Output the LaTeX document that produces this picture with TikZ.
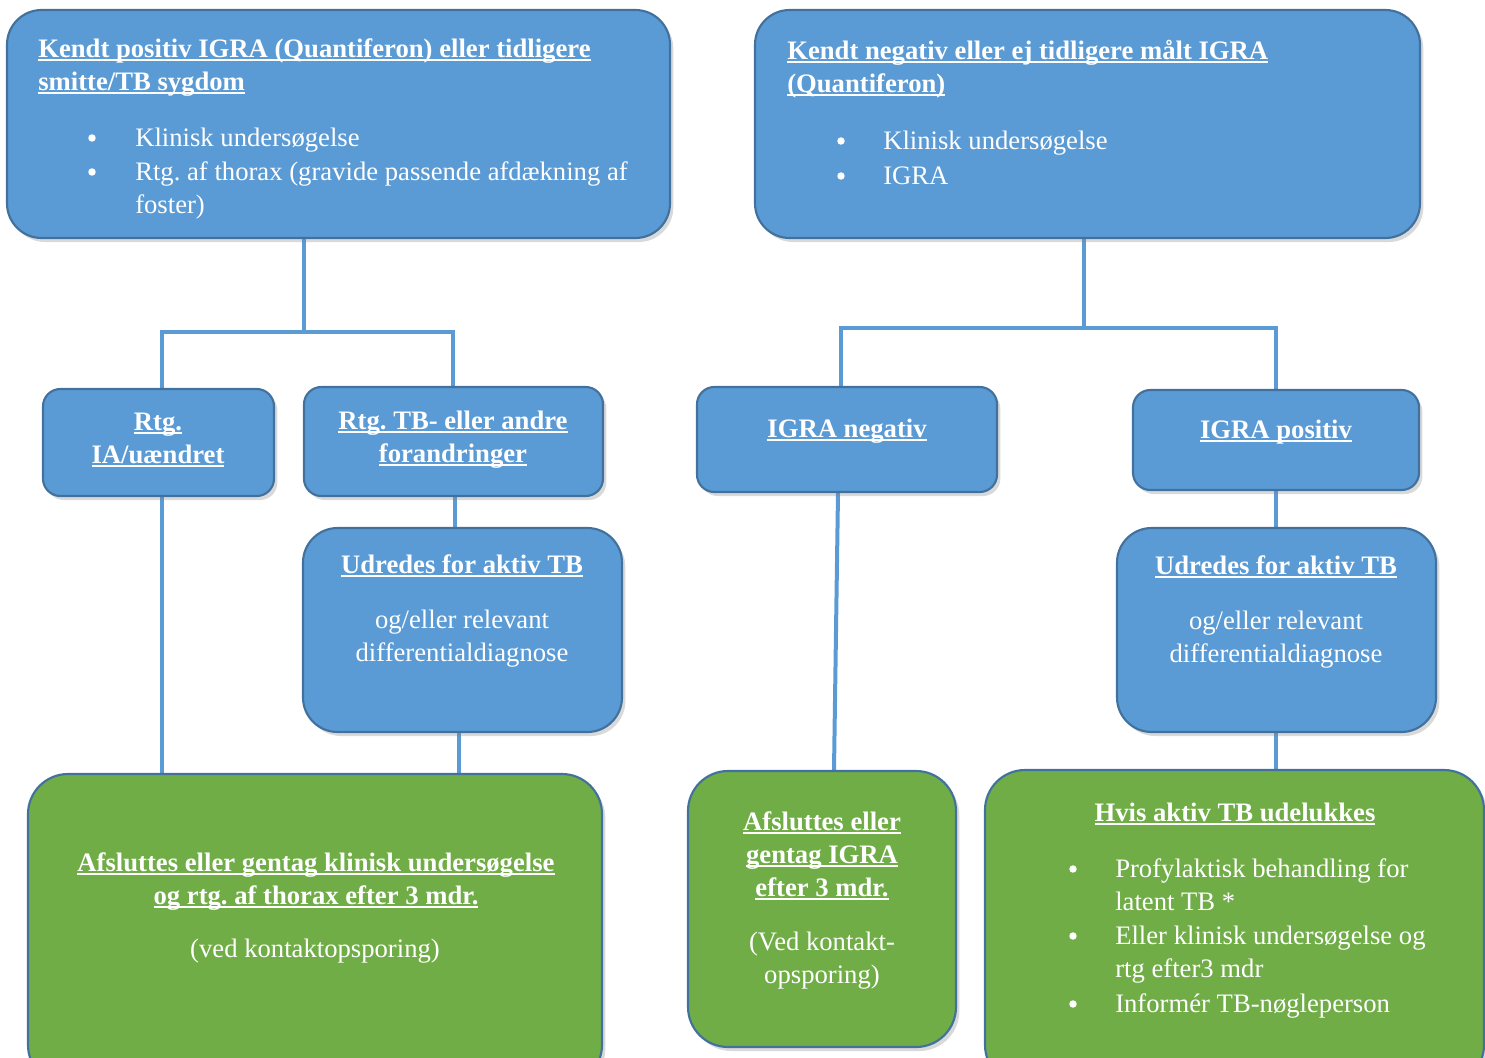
\documentclass[tikz,border=0pt]{standalone}
\usepackage{fontspec}
\setmainfont{Liberation Serif}
\usetikzlibrary{fit,shadows}
\definecolor{boxblue}{HTML}{5B9BD5}
\definecolor{boxgreen}{HTML}{70AD47}
\definecolor{edgeblue}{HTML}{41719C}
\definecolor{lineblue}{HTML}{5B9BD5}
\newcommand\myul[1]{\setbox0\hbox{#1}\rlap{\rule[-3pt]{\wd0}{1.3pt}}\box0}
\frenchspacing
\pgfdeclarelayer{bg}
\pgfsetlayers{bg,main}
\tikzset{
 bbox/.style={draw=edgeblue, line width=1.6pt, fill=boxblue, inner sep=0pt,
   drop shadow={opacity=0.3, shadow xshift=2.5pt, shadow yshift=-3pt}},
 gbox/.style={bbox, fill=boxgreen},
 txt/.style={text=white, inner sep=0pt, font=\fontsize{20pt}{24.75pt}\selectfont\frenchspacing},
 ltxt/.style={txt, anchor=base west},
 ctxt/.style={txt, anchor=base},
 bul/.style={circle, fill=white, inner sep=0pt, minimum size=5.6pt},
 conn/.style={draw=lineblue, line width=3pt, line join=miter},
}
\begin{document}
\begin{tikzpicture}[x=0.75pt,y=-0.75pt]
\useasboundingbox (0,0) rectangle (1485,1057);
% boxes
\node[bbox, rounded corners=26pt, fit={(7,10)(670,238)}] (k1) {};
\node[bbox, rounded corners=26pt, fit={(755,10)(1420,238)}] (k2) {};
\node[bbox, rounded corners=13pt, fit={(43,389)(274,496)}] (k3) {};
\node[bbox, rounded corners=13pt, fit={(304,387)(603,496)}] (k4) {};
\node[bbox, rounded corners=26pt, fit={(303,528)(622,732)}] (k5) {};
\node[bbox, rounded corners=13pt, fit={(697,387)(997,492)}] (k6) {};
\node[bbox, rounded corners=13pt, fit={(1133,390)(1419,490)}] (k7) {};
\node[bbox, rounded corners=26pt, fit={(1117,528)(1436,732)}] (k8) {};
\node[gbox, rounded corners=30pt, fit={(28,774)(602,1085)}] (g1) {};
\node[gbox, rounded corners=30pt, fit={(688,771)(956,1047)}] (g2) {};
\node[gbox, rounded corners=30pt, fit={(985,770)(1484,1085)}] (g3) {};
% connectors
\begin{pgfonlayer}{bg}
\coordinate (j1) at (304,332);
\coordinate (j1l) at (162,332);
\coordinate (j1r) at (453,332);
\coordinate (j2) at (1084,328);
\coordinate (j2l) at (841,328);
\coordinate (j2r) at (1276,328);
\draw[conn] (304,0 |- k1.south) -- (j1);
\draw[conn] (162,0 |- k3.north) -- (j1l) -- (j1r) -- (453,0 |- k4.north);
\draw[conn] (162,0 |- k3.south) -- (162,0 |- g1.north);
\draw[conn] (455,0 |- k4.south) -- (455,0 |- k5.north);
\draw[conn] (459,0 |- k5.south) -- (459,0 |- g1.north);
\draw[conn] (1084,0 |- k2.south) -- (j2);
\draw[conn] (841,0 |- k6.north) -- (j2l) -- (j2r) -- (1276,0 |- k7.north);
\draw[conn] (838,0 |- k6.south) -- (834,0 |- g2.north);
\draw[conn] (1276,0 |- k7.south) -- (1276,0 |- k8.north);
\draw[conn] (1276,0 |- k8.south) -- (1276,0 |- g3.north);
\end{pgfonlayer}
% box 1 text
\node[ltxt] (t1a) at (38,57) {\bfseries\myul{Kendt positiv IGRA (Quantiferon) eller tidligere}};
\node[ltxt] (t1b) at (38,90) {\bfseries\myul{smitte/TB sygdom}};
\node[bul] (b1a) at (92,138) {};
\node[ltxt] (t1c) at (135,146) {Klinisk undersøgelse};
\node[bul] (b1b) at (92,172) {};
\node[ltxt] (t1d) at (135,180) {Rtg. af thorax (gravide passende afdækning af};
\node[ltxt] (t1e) at (135,213) {foster)};
% box 2 text
\node[ltxt] (t2a) at (787,59) {\bfseries\myul{Kendt negativ eller ej tidligere målt IGRA}};
\node[ltxt] (t2b) at (787,92) {\bfseries\myul{(Quantiferon)}};
\node[bul] (b2a) at (841,141) {};
\node[ltxt] (t2c) at (883,149) {Klinisk undersøgelse};
\node[bul] (b2b) at (841,176) {};
\node[ltxt] (t2d) at (883,184) {IGRA};
% box 3
\node[ctxt] (t3a) at (158,430) {\bfseries\myul{Rtg.}};
\node[ctxt] (t3b) at (158,463) {\bfseries\myul{IA/uændret}};
% box 4
\node[ctxt] (t4a) at (453,429) {\bfseries\myul{Rtg. TB- eller andre}};
\node[ctxt] (t4b) at (453,462) {\bfseries\myul{forandringer}};
% box 5
\node[ctxt] (t5a) at (462,573) {\bfseries\myul{Udredes for aktiv TB}};
\node[ctxt] (t5b) at (462,628) {og/eller relevant};
\node[ctxt] (t5c) at (462,661) {differentialdiagnose};
% box 6, 7
\node[ctxt] (t6a) at (847,437) {\bfseries\myul{IGRA negativ}};
\node[ctxt] (t7a) at (1276,438) {\bfseries\myul{IGRA positiv}};
% box 8
\node[ctxt] (t8a) at (1276,574) {\bfseries\myul{Udredes for aktiv TB}};
\node[ctxt] (t8b) at (1276,629) {og/eller relevant};
\node[ctxt] (t8c) at (1276,662) {differentialdiagnose};
% green 1
\node[ctxt] (tg1a) at (316,871) {\bfseries\myul{Afsluttes eller gentag klinisk undersøgelse}};
\node[ctxt] (tg1b) at (316,904) {\bfseries\myul{og rtg. af thorax efter 3 mdr.}};
\node[ctxt] (tg1c) at (315,957) {(ved kontaktopsporing)};
% green 2
\node[ctxt] (tg2a) at (822,830) {\bfseries\myul{Afsluttes eller}};
\node[ctxt] (tg2b) at (822,863) {\bfseries\myul{gentag IGRA}};
\node[ctxt] (tg2c) at (822,896) {\bfseries\myul{efter 3 mdr.}};
\node[ctxt] (tg2d) at (822,950) {(Ved kontakt-};
\node[ctxt] (tg2e) at (822,983) {opsporing)};
% green 3
\node[ctxt] (tg3a) at (1235,821) {\bfseries\myul{Hvis aktiv TB udelukkes}};
\node[bul] (b3a) at (1073,869) {};
\node[ltxt] (tg3b) at (1115,877) {Profylaktisk behandling for};
\node[ltxt] (tg3c) at (1115,910) {latent TB *};
\node[bul] (b3b) at (1073,936) {};
\node[ltxt] (tg3d) at (1115,944) {Eller klinisk undersøgelse og};
\node[ltxt] (tg3e) at (1115,977) {rtg efter3 mdr};
\node[bul] (b3c) at (1073,1004) {};
\node[ltxt] (tg3f) at (1115,1012) {Informér TB-nøgleperson};
\end{tikzpicture}
\end{document}
